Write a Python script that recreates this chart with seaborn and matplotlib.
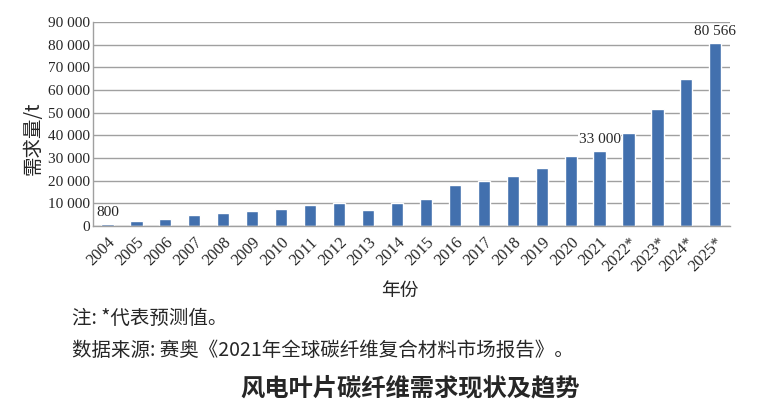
import matplotlib
matplotlib.use('Agg')
import matplotlib.pyplot as plt
import matplotlib.ticker as mticker
import seaborn as sns
import pandas as pd

# === Datos ===
anios = ['2004', '2005', '2006', '2007', '2008', '2009', '2010', '2011', '2012', '2013',
         '2014', '2015', '2016', '2017', '2018', '2019', '2020', '2021',
         '2022*', '2023*', '2024*', '2025*']
demanda = [800, 2000, 3200, 4700, 5600, 6600, 7600, 9100, 10300, 6900,
           10100, 11900, 18100, 19900, 22000, 25600, 30900, 33000,
           41200, 51700, 64700, 80566]
etiquetas = {'2004': '800', '2021': '33 000', '2025*': '80 566'}
yticks = list(range(0, 90001, 10000))

df = pd.DataFrame({'anio': anios, 'demanda': demanda})

sns.set_theme(style='white')
plt.rcParams['font.family'] = ['Liberation Serif', 'Noto Sans CJK SC', 'DejaVu Sans']

fig = plt.figure(figsize=(7.65, 4.15), dpi=100)
ax = fig.add_axes([0.1216, 0.4554, 0.8324, 0.4916])

sns.barplot(data=df, x='anio', y='demanda', color='#4270ae', width=0.42,
            saturation=1, ax=ax)

ax.set_ylim(0, 90000)
ax.set_yticks(yticks)
ax.yaxis.set_major_formatter(mticker.FuncFormatter(lambda v, p: f'{int(v):,}'.replace(',', ' ')))
ax.grid(axis='y', color='#a0a0a0', linewidth=1)
ax.set_axisbelow(True)
for s in ['top', 'right']:
    ax.spines[s].set_visible(False)
for s in ['left', 'bottom']:
    ax.spines[s].set_color('#a0a0a0')
    ax.spines[s].set_linewidth(1)

ax.tick_params(axis='y', labelsize=11, pad=2, length=0)
ax.tick_params(axis='x', labelsize=11.8, pad=6, length=0)
plt.setp(ax.get_xticklabels(), rotation=45, ha='right', rotation_mode='anchor')

# Etiquetas de valores
for i, a in enumerate(anios):
    if a in etiquetas:
        ax.text(i, demanda[i] + 2500, etiquetas[a], ha='center', va='bottom', fontsize=11,
                bbox=dict(facecolor='white', edgecolor='none', pad=0.5))

ax.set_ylabel('需求量/t', fontsize=14, family=['Noto Sans CJK SC', 'DejaVu Sans'])
ax.yaxis.set_label_coords(-0.077, 0.43)
ax.set_xlabel('')

fig.text(0.523, 0.30, '年份', ha='center', va='center', fontsize=13.5, family=['Noto Sans CJK SC'])
fig.text(0.094, 0.232, '注: *代表预测值。', ha='left', va='center', fontsize=14,
         family=['Noto Sans CJK SC'])
fig.text(0.094, 0.155, '数据来源: 赛奥《2021年全球碳纤维复合材料市场报告》。', ha='left', va='center',
         fontsize=14, family=['Noto Sans CJK SC'])
fig.text(0.536, 0.065, '风电叶片碳纤维需求现状及趋势', ha='center', va='center', fontsize=17.5,
         fontweight='bold', family=['Noto Sans CJK SC'])

fig.savefig('out.png', dpi=100)
